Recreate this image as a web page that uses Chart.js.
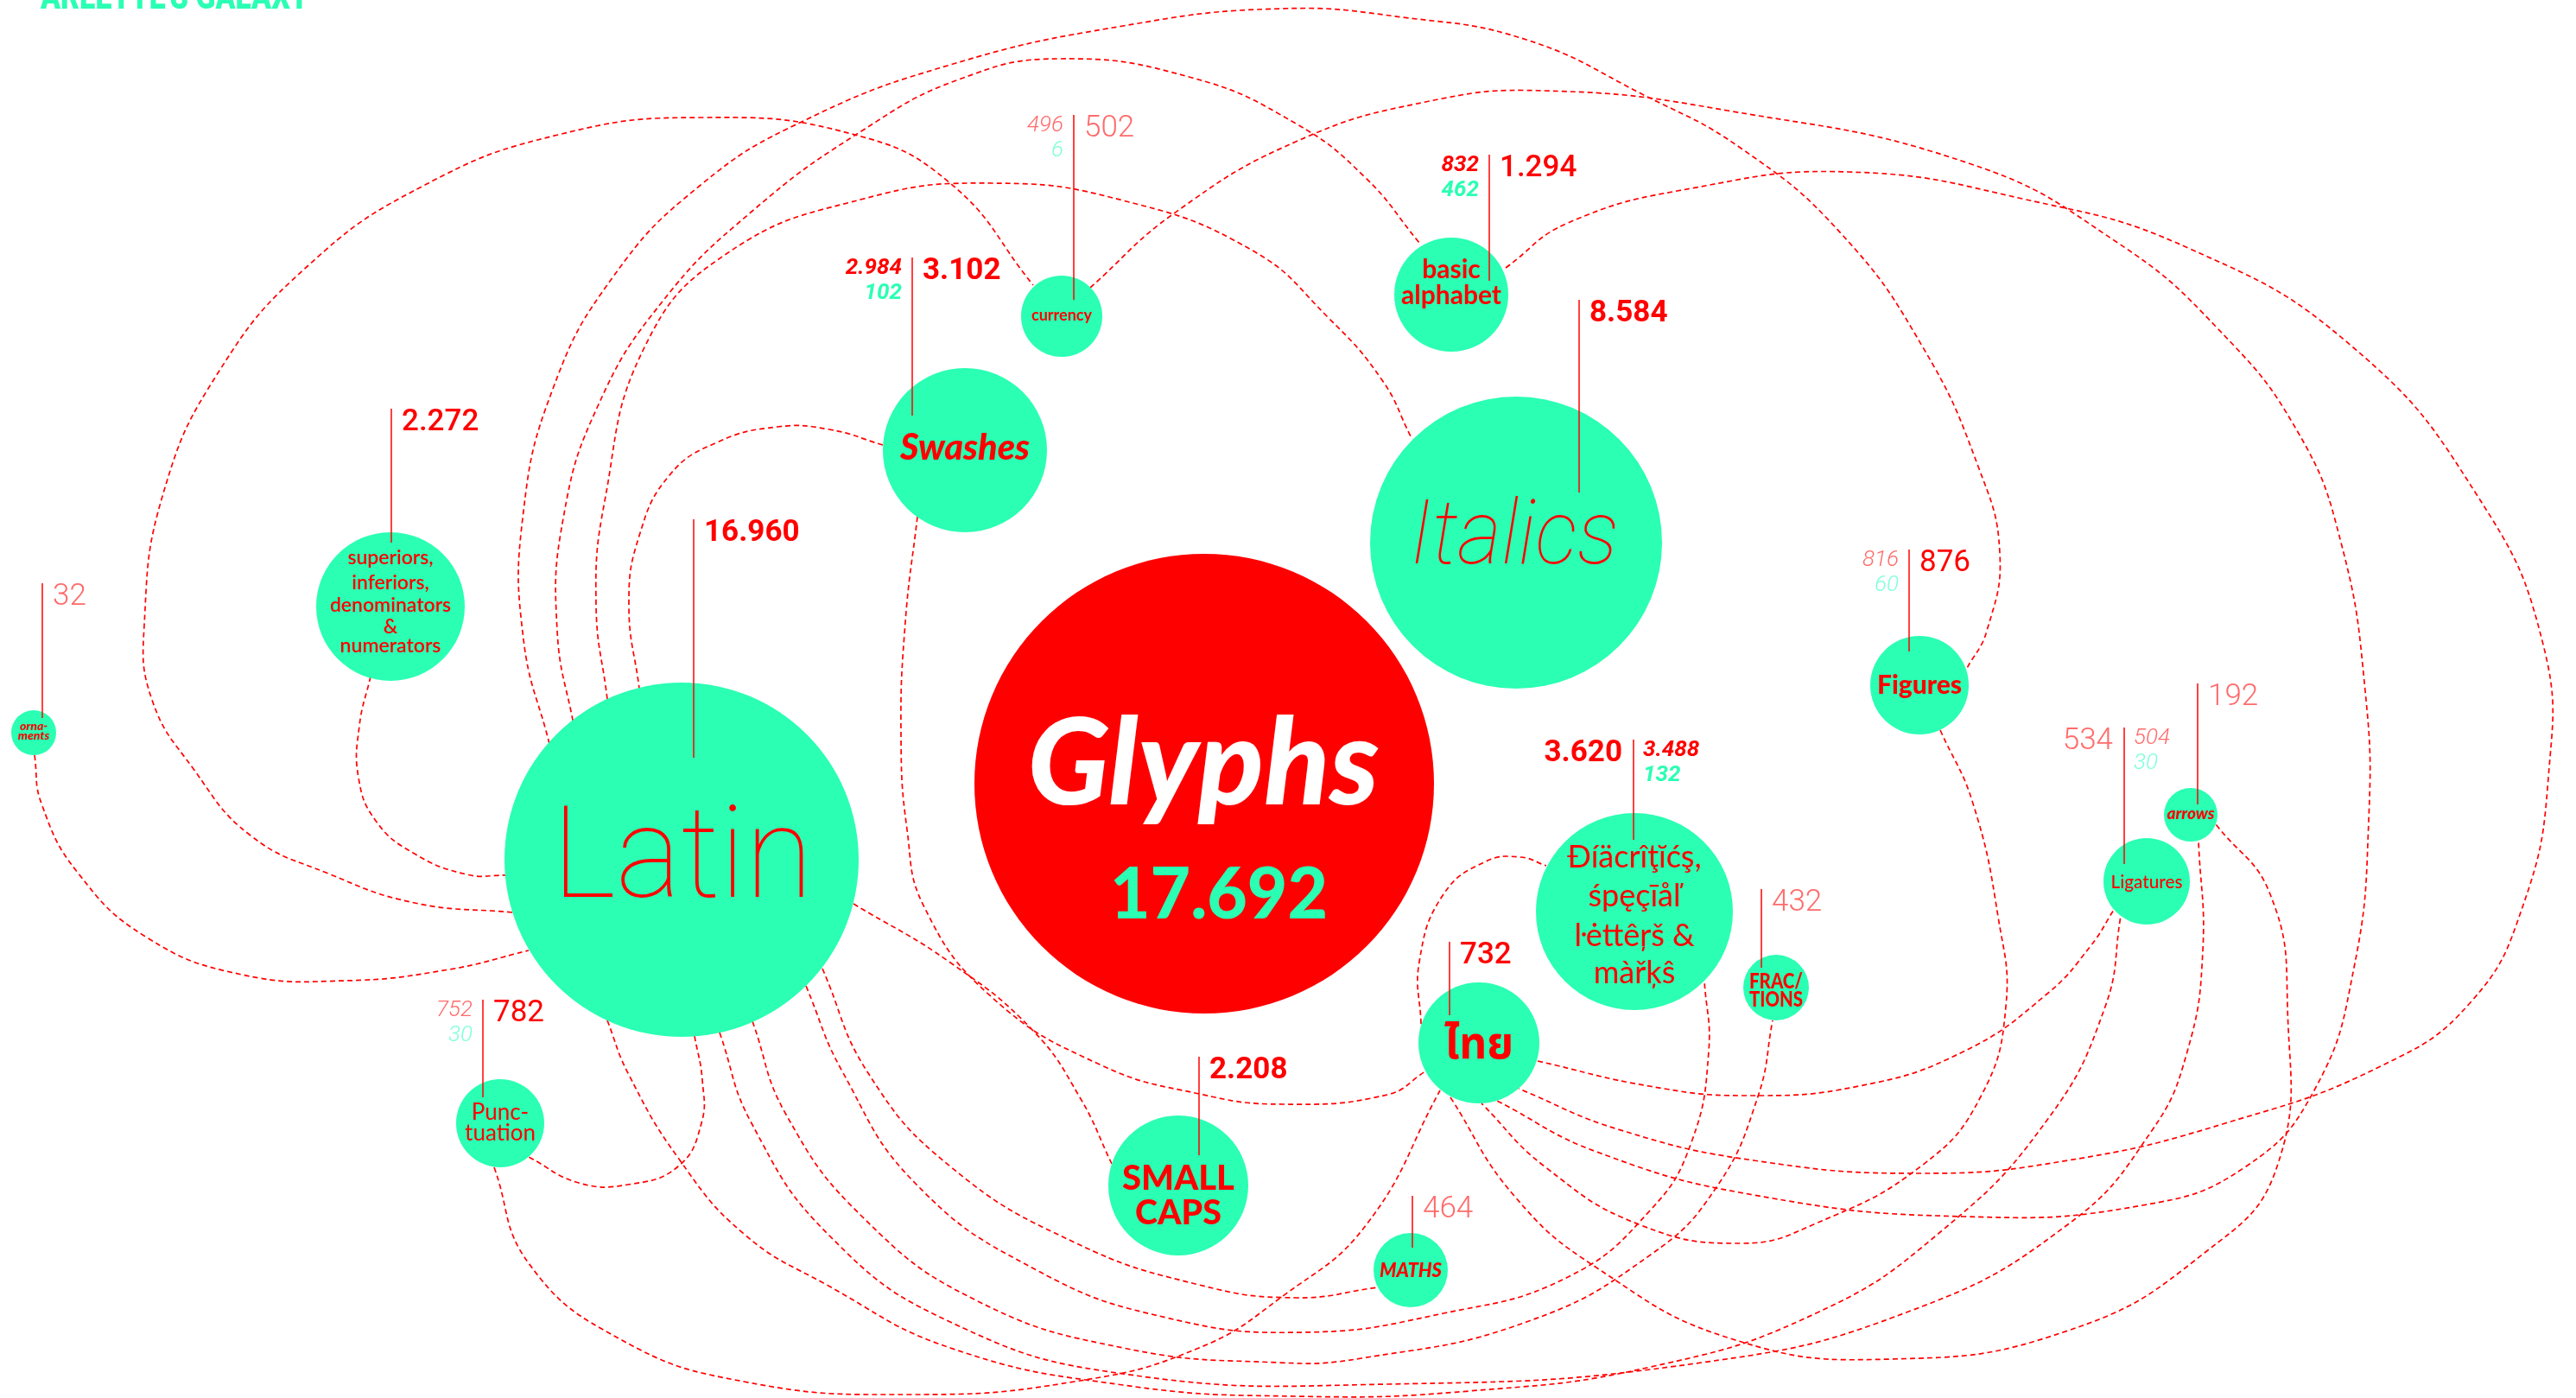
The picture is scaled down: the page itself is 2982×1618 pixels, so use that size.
<!DOCTYPE html>
<html>
<head>
<meta charset="utf-8">
<title>Arlette's Galaxy</title>
<script src="https://cdn.jsdelivr.net/npm/chart.js@4.4.1/dist/chart.umd.min.js"></script>
<style>
  html, body { margin: 0; padding: 0; background: #fff; overflow: hidden; }
  #wrap { width: 2982px; height: 1618px; position: relative; }
</style>
</head>
<body>
<div id="wrap"><canvas id="galaxy"></canvas></div>
<script>
// Glyph sets of the Arlette typeface and how many glyphs each one holds
const categories = ['Glyphs', 'Latin', 'Italics', 'Diacritics', 'Swashes', 'Superiors', 'Small caps',
    'Basic alphabet', 'Figures', 'Punctuation', 'Thai', 'Ligatures', 'Currency', 'Maths', 'Fractions',
    'Arrows', 'Ornaments'];
const glyphTotals = [17692, 16960, 8584, 3620, 3102, 2272, 2208, 1294, 876, 782, 732, 534, 502, 464, 432, 192, 32];
// split into Latin-script (red) and Thai-script (teal) glyphs, null where not shown
const latinShare = [null, null, null, 3488, 2984, null, null, 832, 816, 752, null, 504, 496, null, null, null, null];
const thaiShare = [null, null, null, 132, 102, null, null, 462, 60, 30, null, 30, 6, null, null, null, null];

// place of each set in the galaxy (chart units) and bubble radius
const orbitX = [1394, 789, 1755, 1892, 1117, 452, 1364, 1680, 2222, 579, 1712, 2485, 1229, 1633, 2056, 2536, 39];
const orbitY = [907, 995, 628, 1055, 521, 702, 1372, 341, 793, 1300, 1207, 1020, 366, 1470, 1143, 943, 848];
const bubbleR = [266, 205, 169, 114, 95, 86, 81, 66, 57, 51, 70, 50, 47, 43, 38, 31, 26];

const bubbleLabels = [
    ['Glyphs', '17.692'], ['Latin'], ['Italics'], ['Ðíäcrîţĭćş,', 'śpęçīåľ', 'ŀėttêŗš &', 'màřķŝ'],
    ['Swashes'], ['superiors,', 'inferiors,', 'denominators', '&', 'numerators'], ['SMALL', 'CAPS'],
    ['basic', 'alphabet'], ['Figures'], ['Punc-', 'tuation'], ['ไทย'], ['Ligatures'], ['currency'],
    ['MATHS'], ['FRAC/', 'TIONS'], ['arrows'], ['orna-', 'ments']
];

// dashed orbits linking the sets, sampled along each curve (chart units)
const links = [
    { from: 'Ornaments', to: 'Latin', path: [[40, 874], [48, 930], [90, 1010], [170, 1085], [280, 1128], [400, 1135], [520, 1122], [612, 1100]] },
    { from: 'Superiors', to: 'Latin', path: [[429, 783], [416, 840], [415, 900], [435, 950], [478, 987], [540, 1012], [586, 1013]] },
    { from: 'Latin', to: 'Currency', path: [[593, 1056], [480, 1045], [380, 1011], [290, 967], [224, 890], [176, 810], [167, 723], [189, 571], [254, 429], [356, 308], [490, 215], [646, 156], [813, 136], [986, 155], [1100, 212], [1196, 330]] },
    { from: 'Latin', to: 'Figures', path: [[636, 861], [606, 740], [605, 600], [640, 450], [710, 320], [810, 215], [930, 140], [1100, 75], [1300, 30], [1483, 10], [1624, 20], [1767, 46], [1901, 109], [2016, 172], [2131, 270], [2226, 402], [2290, 540], [2315, 640], [2300, 730], [2276, 775]] },
    { from: 'Latin', to: 'Basic alphabet', path: [[665, 844], [645, 730], [652, 600], [692, 470], [766, 350], [870, 245], [1000, 150], [1110, 92], [1225, 68], [1380, 90], [1500, 143], [1580, 205], [1643, 281]] },
    { from: 'Latin', to: 'Italics', path: [[703, 809], [690, 700], [700, 580], [746, 402], [842, 293], [1000, 230], [1148, 212], [1300, 232], [1450, 290], [1537, 367], [1600, 440], [1633, 505]] },
    { from: 'Swashes', to: 'Latin', path: [[1022, 515], [960, 497], [900, 494], [830, 512], [775, 550], [740, 620], [728, 700], [740, 797]] },
    { from: 'Swashes', to: 'Thai', path: [[1062, 598], [1048, 720], [1043, 850], [1050, 960], [1070, 1050], [1148, 1154], [1273, 1232], [1388, 1266], [1485, 1278], [1606, 1267], [1650, 1240]] },
    { from: 'Currency', to: 'Thai', path: [[1262, 333], [1359, 247], [1500, 164], [1650, 118], [1788, 105], [2000, 128], [2282, 190], [2450, 280], [2567, 380], [2660, 500], [2710, 628], [2738, 800], [2742, 950], [2725, 1120], [2680, 1260], [2600, 1350], [2480, 1395], [2273, 1408], [2030, 1383], [1848, 1333], [1733, 1274]] },
    { from: 'Basic alphabet', to: 'Thai', path: [[1743, 310], [1815, 258], [1958, 218], [2140, 199], [2341, 230], [2533, 287], [2724, 402], [2868, 574], [2944, 746], [2950, 900], [2920, 1050], [2860, 1160], [2758, 1233], [2576, 1300], [2394, 1343], [2224, 1358], [2030, 1343], [1873, 1307], [1758, 1260]] },
    { from: 'Thai', to: 'Ligatures', path: [[1780, 1228], [1909, 1257], [2018, 1268], [2152, 1257], [2273, 1217], [2370, 1150], [2420, 1095], [2447, 1053]] },
    { from: 'Figures', to: 'Thai', path: [[2246, 845], [2284, 930], [2313, 1061], [2322, 1165], [2293, 1269], [2226, 1348], [2102, 1416], [2016, 1439], [1897, 1417], [1788, 1350], [1715, 1277]] },
    { from: 'Thai', to: 'Arrows', path: [[1679, 1270], [1752, 1383], [1848, 1467], [2006, 1550], [2188, 1573], [2394, 1540], [2552, 1450], [2636, 1350], [2648, 1165], [2628, 1035], [2565, 954]] },
    { from: 'Thai', to: 'Diacritics', path: [[1645, 1185], [1643, 1113], [1671, 1035], [1720, 997], [1760, 992], [1790, 1002]] },
    { from: 'Punctuation', to: 'Thai', path: [[572, 1351], [612, 1462], [718, 1550], [861, 1599], [1053, 1614], [1244, 1599], [1388, 1560], [1485, 1500], [1582, 1417], [1667, 1262]] },
    { from: 'Latin', to: 'Punctuation', path: [[804, 1199], [813, 1250], [812, 1300], [785, 1350], [727, 1371], [670, 1369], [612, 1339]] },
    { from: 'Latin', to: 'Small caps', path: [[988, 1046], [1100, 1114], [1196, 1193], [1250, 1270], [1287, 1347]] },
    { from: 'Latin', to: 'Maths', path: [[952, 1121], [1005, 1242], [1100, 1350], [1244, 1438], [1388, 1487], [1500, 1502], [1595, 1490]] },
    { from: 'Latin', to: 'Diacritics', path: [[933, 1141], [975, 1240], [1060, 1370], [1200, 1470], [1350, 1525], [1509, 1542], [1671, 1520], [1815, 1478], [1911, 1400], [1958, 1322], [1978, 1217], [1973, 1135]] },
    { from: 'Latin', to: 'Fractions', path: [[871, 1182], [910, 1290], [1000, 1410], [1130, 1505], [1300, 1560], [1480, 1577], [1576, 1572], [1767, 1530], [1911, 1452], [1987, 1374], [2035, 1269], [2052, 1181]] },
    { from: 'Latin', to: 'Arrows', path: [[833, 1195], [870, 1300], [960, 1430], [1100, 1530], [1300, 1590], [1606, 1602], [1970, 1577], [2212, 1517], [2394, 1417], [2490, 1310], [2532, 1217], [2550, 1100], [2545, 973]] },
    { from: 'Latin', to: 'Ligatures', path: [[703, 1181], [727, 1242], [785, 1340], [861, 1428], [957, 1487], [1100, 1560], [1300, 1603], [1500, 1616], [1700, 1610], [1911, 1582], [2102, 1520], [2246, 1426], [2370, 1296], [2437, 1165], [2455, 1060]] }
];

const RED = '#ff0000';
const TEAL = '#2affb3';
const PINK = '#ff6b6b';
const MINT = '#80ffd9';
const SANS = "Lato, 'Noto Sans', sans-serif";
const NUM = "Roboto, 'Liberation Sans', sans-serif";

// text styles of the labels inside the bubbles (dx/dy from bubble centre to baseline)
const labelStyle = {
    'Glyphs': { font: ['italic 900 140px ' + SANS, '900 82px ' + SANS], color: ['#ffffff', TEAL], dx: [-1, 17], dy: [24, 156], maxW: [447, 252] },
    'Latin': { font: '100 148px ' + NUM, dx: 1, dy: 43, maxW: 302 },
    'Italics': { font: 'italic 100 104px ' + NUM, dx: -2, dy: 24, maxW: 241 },
    'Diacritics': { font: '400 36px ' + SANS, dy: [-51, -6, 40, 83], maxW: 160 },
    'Swashes': { font: 'italic 900 42px ' + SANS, dy: 11, maxW: 150 },
    'Superiors': { font: '600 23px ' + SANS, dy: [-49, -20, 6, 31, 53], maxW: 145 },
    'Small caps': { font: '900 40px ' + SANS, dy: [5, 45], maxW: [135, 100] },
    'Basic alphabet': { font: '700 30px ' + SANS, dy: [-19, 11], maxW: [70, 121] },
    'Figures': { font: '900 30px ' + SANS, dy: 10, maxW: 105 },
    'Punctuation': { font: '400 26px ' + SANS, dy: [-4, 20], maxW: [67, 86] },
    'Thai': { font: "700 52px 'Noto Sans Thai', 'Noto Sans', 'DejaVu Sans', sans-serif", dy: 18, maxW: 80 },
    'Ligatures': { font: '500 22px ' + SANS, dy: 8, maxW: 83 },
    'Currency': { font: '700 18px ' + SANS, dy: 5, maxW: 79 },
    'Maths': { font: 'italic 900 22px ' + SANS, dy: 8, maxW: 80 },
    'Fractions': { font: '900 24px ' + SANS, dy: [1, 22], maxW: 62 },
    'Arrows': { font: 'italic 900 19px ' + SANS, dy: 5, maxW: 59 },
    'Ornaments': { font: 'italic 900 14px ' + SANS, dy: [-3, 8], maxW: 45 }
};

// leader lines with the glyph counts (offsets from bubble centre)
const callouts = {
    'Latin': { dx: 14, top: -394, bottom: -118, side: 'right', weight: 'bold' },
    'Italics': { dx: 73, top: -281, bottom: -58, side: 'right', weight: 'bold' },
    'Diacritics': { dx: -1, top: -199, bottom: -83, side: 'left', weight: 'bold', split: 'bold' },
    'Swashes': { dx: -61, top: -223, bottom: -40, side: 'right', weight: 'bold', split: 'bold' },
    'Superiors': { dx: 1, top: -229, bottom: -74, side: 'right', weight: 'medium' },
    'Small caps': { dx: 24, top: -149, bottom: -35, side: 'right', weight: 'bold' },
    'Basic alphabet': { dx: 44, top: -162, bottom: -16, side: 'right', weight: 'medium', split: 'bold' },
    'Figures': { dx: -12, top: -157, bottom: -39, side: 'right', weight: 'regular', split: 'light' },
    'Punctuation': { dx: -20, top: -143, bottom: -30, side: 'right', weight: 'regular', split: 'light' },
    'Thai': { dx: -34, top: -117, bottom: -32, side: 'right', weight: 'medium' },
    'Ligatures': { dx: -26, top: -178, bottom: -20, side: 'left', weight: 'light', split: 'light' },
    'Currency': { dx: 14, top: -233, bottom: -19, side: 'right', weight: 'light', split: 'light' },
    'Maths': { dx: 2, top: -86, bottom: -26, side: 'right', weight: 'light' },
    'Fractions': { dx: -17, top: -114, bottom: -23, side: 'right', weight: 'light' },
    'Arrows': { dx: 8, top: -152, bottom: -12, side: 'right', weight: 'light' },
    'Ornaments': { dx: 10, top: -173, bottom: -17, side: 'right', weight: 'light' }
};

const totalFont = {
    bold: { font: '700 35px ' + NUM, color: RED },
    medium: { font: '500 35px ' + NUM, color: RED },
    regular: { font: '400 35px ' + NUM, color: RED },
    light: { font: '300 35px ' + NUM, color: PINK }
};
const splitFont = {
    bold: { font: 'italic 700 26px ' + NUM, a: RED, b: TEAL },
    light: { font: 'italic 300 26px ' + NUM, a: PINK, b: MINT }
};

function pick(v, i) {
    return Array.isArray(v) ? v[i] : v;
}

function fmt(n) {
    return n.toLocaleString('de-DE');
}

function drawText(ctx, text, x, y, font, color, align, maxW) {
    ctx.font = font;
    ctx.fillStyle = color;
    ctx.textAlign = align;
    ctx.textBaseline = 'alphabetic';
    if (maxW) ctx.fillText(text, x, y, maxW);
    else ctx.fillText(text, x, y);
}

const galaxyText = {
    id: 'galaxyText',
    afterDatasetsDraw(chart) {
        const ctx = chart.ctx;
        const pts = chart.getDatasetMeta(0).data;
        ctx.save();

        categories.forEach((name, i) => {
            const cx = pts[i].x;
            const cy = pts[i].y;

            // name of the set inside its bubble
            const st = labelStyle[name];
            bubbleLabels[i].forEach((line, j) => {
                const dy = Array.isArray(st.dy) ? st.dy[j] : st.dy + j * (st.lh || 0);
                drawText(ctx, line, cx + (pick(st.dx, j) || 0), cy + dy,
                    pick(st.font, j), pick(st.color, j) || RED, 'center', pick(st.maxW, j));
            });

            // leader line with the counts
            const c = callouts[name];
            if (!c) return;
            const lx = cx + c.dx;
            const top = cy + c.top;
            ctx.strokeStyle = RED;
            ctx.lineWidth = 1.5;
            ctx.beginPath();
            ctx.moveTo(lx, top);
            ctx.lineTo(lx, cy + c.bottom);
            ctx.stroke();

            const tf = totalFont[c.weight];
            const right = c.side === 'right';
            drawText(ctx, fmt(glyphTotals[i]), right ? lx + 12 : lx - 13, top + 25,
                tf.font, tf.color, right ? 'left' : 'right');

            if (c.split && latinShare[i] != null) {
                const sf = splitFont[c.split];
                const sx = right ? lx - 12 : lx + 11;
                const al = right ? 'right' : 'left';
                drawText(ctx, fmt(latinShare[i]), sx, top + 19, sf.font, sf.a, al);
                drawText(ctx, fmt(thaiShare[i]), sx, top + 48, sf.font, sf.b, al);
            }
        });

        // title, cut by the top edge as in the poster
        drawText(ctx, "ARLETTE'S GALAXY", 47, 10, '900 42px ' + NUM, TEAL, 'left', 310);
        ctx.restore();
    }
};

const bubbleSet = {
    type: 'bubble',
    label: 'glyph sets',
    order: 0,
    data: categories.map((c, i) => ({ x: orbitX[i], y: orbitY[i], r: bubbleR[i] })),
    backgroundColor: categories.map(c => c === 'Glyphs' ? RED : TEAL),
    borderWidth: 0,
    hoverBorderWidth: 0
};

const orbitSets = links.map(l => ({
    type: 'line',
    label: l.from + ' - ' + l.to,
    order: 1,
    data: l.path.map(([x, y]) => ({ x, y })),
    borderColor: RED,
    borderWidth: 1.7,
    borderDash: [6, 4],
    pointRadius: 0,
    tension: 0.45,
    fill: false,
    clip: false
}));

new Chart(document.getElementById('galaxy'), {
    type: 'bubble',
    data: { datasets: [bubbleSet, ...orbitSets] },
    options: {
        responsive: true,
        maintainAspectRatio: false,
        animation: false,
        devicePixelRatio: 1,
        events: [],
        layout: { padding: 0, autoPadding: false },
        scales: {
            x: { type: 'linear', min: 0, max: 2982, display: false },
            y: { type: 'linear', min: 0, max: 1618, reverse: true, display: false }
        },
        plugins: {
            legend: { display: false },
            tooltip: { enabled: false }
        }
    },
    plugins: [galaxyText]
});
</script>
</body>
</html>
